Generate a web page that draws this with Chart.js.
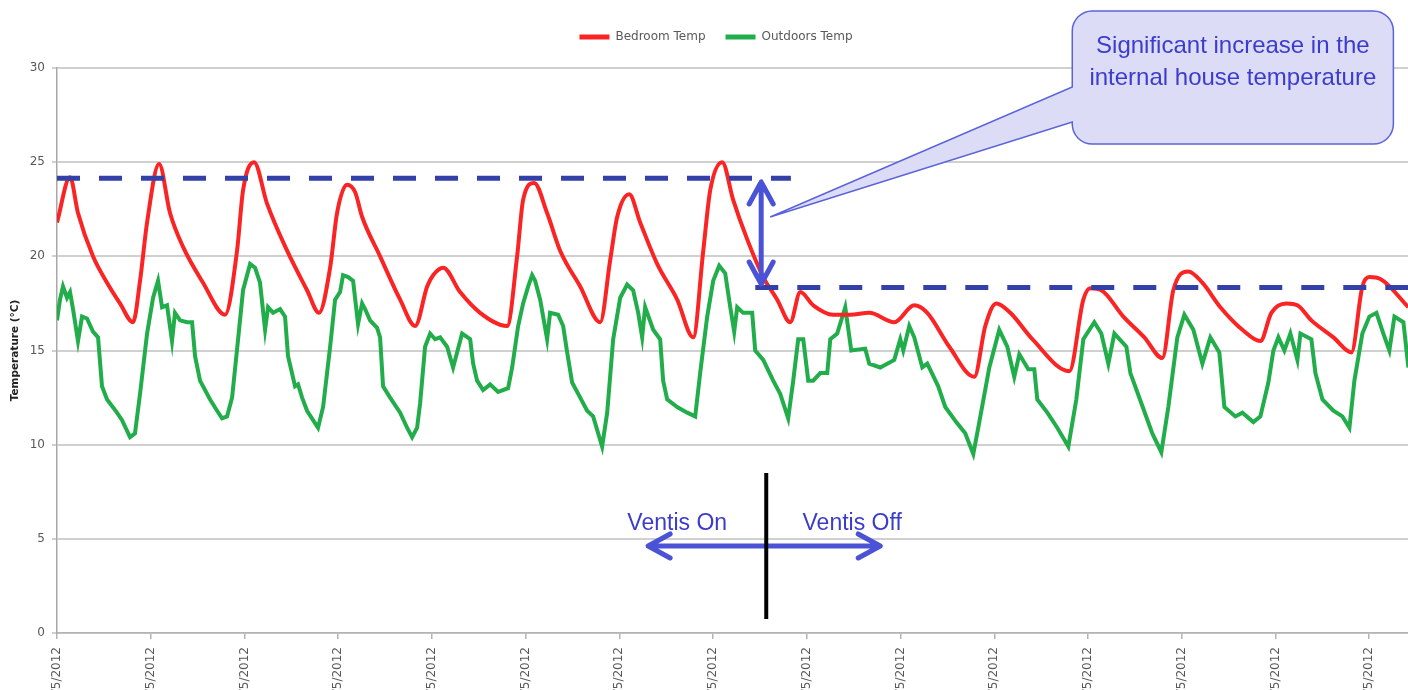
<!DOCTYPE html>
<html lang="en">

<head>
  <meta charset="UTF-8" />
  <title>Bedroom vs Outdoors Temperature</title>
  <style>
    html, body { margin: 0; padding: 0; overflow: hidden; background: #fff; }
  </style>
</head>

<body>
  <canvas id="tempChart" width="1432" height="740"></canvas>

  <script src="https://cdn.jsdelivr.net/npm/chart.js"></script>

  <script>
    // x values are days since the first tick
    const dateLabels = ["10/5/2012", "11/5/2012", "12/5/2012", "13/5/2012", "14/5/2012",
      "15/5/2012", "16/5/2012", "17/5/2012", "18/5/2012", "19/5/2012", "20/5/2012",
      "21/5/2012", "22/5/2012", "23/5/2012", "24/5/2012"];

    const bedroomDays = [0, 0.139, 0.224, 0.384, 0.534, 0.672, 0.811, 0.886, 0.961, 1.089,
      1.206, 1.345, 1.558, 1.793, 1.921, 1.985, 2.102, 2.241, 2.455, 2.668,
      2.796, 2.914, 2.988, 3.095, 3.181, 3.255, 3.447, 3.661, 3.821, 3.949,
      4.013, 4.120, 4.301, 4.514, 4.803, 4.909, 4.973, 5.091, 5.229, 5.368,
      5.582, 5.795, 5.902, 5.977, 6.105, 6.222, 6.403, 6.617, 6.788, 6.895,
      6.969, 7.097, 7.214, 7.364, 7.535, 7.684, 7.823, 7.930, 8.068, 8.282,
      8.463, 8.666, 8.933, 9.146, 9.285, 9.520, 9.787, 9.904, 10.021, 10.171,
      10.406, 10.801, 10.950, 11.025, 11.142, 11.377, 11.601, 11.793, 11.910, 12.070,
      12.220, 12.412, 12.647, 12.839, 12.956, 13.116, 13.234, 13.383, 13.618, 13.810,
      13.927, 14.002, 14.119, 14.418];
    const bedroomTemp = [21.8, 24.2, 22.3, 20.0, 18.6, 17.5, 16.5, 18.7, 21.8, 24.9,
      22.3, 20.5, 18.6, 16.9, 20.3, 23.5, 25.0, 22.8, 20.3, 18.2,
      17.0, 19.4, 22.3, 23.8, 23.4, 22.1, 20.0, 17.7, 16.3, 18.4,
      19.0, 19.4, 18.1, 17.0, 16.3, 20.0, 23.0, 23.9, 22.3, 20.3,
      18.4, 16.5, 19.8, 22.1, 23.3, 21.8, 19.6, 17.7, 15.7, 20.3,
      23.5, 25.0, 23.0, 20.9, 18.9, 17.7, 16.5, 18.1, 17.4, 16.9,
      16.9, 17.0, 16.5, 17.4, 17.0, 15.2, 13.6, 16.3, 17.5, 17.0,
      15.6, 13.9, 17.7, 18.3, 18.2, 16.8, 15.7, 14.6, 18.2, 19.2,
      18.6, 17.3, 16.1, 15.5, 17.0, 17.5, 17.4, 16.6, 15.7, 14.9,
      18.4, 18.9, 18.8, 17.3];

    const outdoorDays = [0.000, 0.032, 0.064, 0.107, 0.139, 0.171, 0.224, 0.267, 0.320, 0.384,
      0.438, 0.480, 0.534, 0.640, 0.694, 0.779, 0.832, 0.886, 0.961, 1.025,
      1.078, 1.121, 1.174, 1.227, 1.259, 1.313, 1.387, 1.441, 1.473, 1.526,
      1.633, 1.708, 1.761, 1.814, 1.868, 1.932, 1.985, 2.060, 2.113, 2.166,
      2.220, 2.252, 2.305, 2.380, 2.433, 2.465, 2.540, 2.572, 2.615, 2.668,
      2.732, 2.785, 2.839, 2.914, 2.967, 3.020, 3.052, 3.106, 3.159, 3.212,
      3.255, 3.287, 3.340, 3.415, 3.447, 3.479, 3.554, 3.661, 3.735, 3.789,
      3.842, 3.874, 3.927, 3.981, 4.034, 4.088, 4.162, 4.226, 4.322, 4.408,
      4.440, 4.482, 4.546, 4.621, 4.706, 4.813, 4.856, 4.920, 4.973, 5.027,
      5.069, 5.101, 5.155, 5.229, 5.261, 5.347, 5.400, 5.443, 5.496, 5.582,
      5.656, 5.720, 5.816, 5.870, 5.934, 6.009, 6.083, 6.147, 6.201, 6.243,
      6.275, 6.361, 6.435, 6.467, 6.510, 6.617, 6.724, 6.809, 6.862, 6.937,
      7.001, 7.065, 7.129, 7.183, 7.225, 7.257, 7.321, 7.417, 7.449, 7.535,
      7.641, 7.716, 7.801, 7.855, 7.908, 7.962, 8.015, 8.068, 8.143, 8.218,
      8.250, 8.324, 8.410, 8.474, 8.623, 8.666, 8.783, 8.933, 8.997, 9.029,
      9.093, 9.146, 9.232, 9.285, 9.402, 9.477, 9.594, 9.690, 9.776, 9.840,
      9.947, 10.053, 10.139, 10.213, 10.267, 10.363, 10.427, 10.459, 10.566, 10.672,
      10.790, 10.875, 10.950, 11.067, 11.142, 11.217, 11.281, 11.409, 11.452, 11.569,
      11.686, 11.782, 11.857, 11.953, 12.028, 12.124, 12.220, 12.305, 12.401, 12.455,
      12.572, 12.647, 12.764, 12.839, 12.924, 12.978, 13.031, 13.095, 13.159, 13.234,
      13.266, 13.383, 13.426, 13.501, 13.618, 13.714, 13.789, 13.842, 13.927, 14.002,
      14.077, 14.151, 14.215, 14.269, 14.365, 14.418];
    const outdoorTemp = [16.6, 17.7, 18.4, 17.8, 18.1, 17.2, 15.5, 16.8, 16.7, 16.0,
      15.7, 13.1, 12.4, 11.7, 11.3, 10.4, 10.6, 12.7, 15.9, 17.8,
      18.7, 17.3, 17.4, 15.5, 17.0, 16.6, 16.5, 16.5, 14.7, 13.4,
      12.4, 11.8, 11.4, 11.5, 12.5, 15.6, 18.2, 19.6, 19.4, 18.6,
      16.1, 17.3, 17.0, 17.2, 16.8, 14.7, 13.1, 13.2, 12.5, 11.8,
      11.3, 10.9, 12.0, 15.2, 17.7, 18.1, 19.0, 18.9, 18.7, 16.4,
      17.5, 17.2, 16.6, 16.2, 15.7, 13.1, 12.5, 11.7, 10.9, 10.4,
      10.9, 12.2, 15.2, 15.9, 15.6, 15.7, 15.2, 14.1, 15.9, 15.6,
      14.3, 13.4, 12.9, 13.2, 12.8, 13.0, 14.1, 16.3, 17.5, 18.4,
      19.0, 18.7, 17.7, 15.6, 17.0, 16.9, 16.3, 14.9, 13.3, 12.5,
      11.8, 11.5, 9.9, 11.7, 15.6, 17.8, 18.5, 18.2, 17.0, 15.7,
      17.3, 16.1, 15.6, 13.4, 12.4, 12.0, 11.7, 11.5, 13.8, 16.8,
      18.7, 19.5, 19.1, 17.3, 16.0, 17.3, 17.0, 17.0, 15.0, 14.5,
      13.4, 12.7, 11.4, 13.4, 15.6, 15.6, 13.4, 13.4, 13.8, 13.8,
      15.6, 15.9, 17.3, 15.0, 15.1, 14.3, 14.1, 14.5, 15.6, 15.0,
      16.3, 15.7, 14.1, 14.3, 13.1, 12.0, 11.2, 10.6, 9.5, 11.2,
      14.1, 16.1, 15.2, 13.6, 14.8, 14.0, 14.0, 12.4, 11.7, 10.9,
      9.9, 12.4, 15.6, 16.5, 15.9, 14.3, 15.9, 15.2, 13.8, 12.2,
      10.6, 9.6, 12.0, 15.7, 16.9, 16.1, 14.3, 15.7, 14.9, 12.0,
      11.5, 11.7, 11.2, 11.5, 13.3, 15.0, 15.7, 15.0, 15.9, 14.5,
      15.9, 15.6, 13.8, 12.4, 11.8, 11.5, 10.9, 13.4, 15.9, 16.8,
      17.0, 15.9, 15.0, 16.8, 16.5, 14.1];

    const toPoints = (xs, ys) => xs.map((d, i) => ({ x: d, y: ys[i] }));

    Chart.defaults.font.family = "'DejaVu Sans', Verdana, sans-serif";

    // make room between legend and plot like the original
    const legendSpace = {
      id: "legendSpace",
      beforeInit(chart) {
        const fit = chart.legend.fit;
        chart.legend.fit = function () {
          fit.bind(chart.legend)();
          this.height = 57;
        };
      },
    };

    function chevron(ctx, tx, ty, dx, dy) {
      const px = -dy, py = dx;
      ctx.moveTo(tx - 22 * dx + 12 * px, ty - 22 * dy + 12 * py);
      ctx.lineTo(tx, ty);
      ctx.lineTo(tx - 22 * dx - 12 * px, ty - 22 * dy - 12 * py);
    }

    const notes = {
      id: "notes",
      afterDatasetsDraw(chart) {
        const { ctx } = chart;
        const X = (v) => chart.scales.x.getPixelForValue(v);
        const Y = (v) => chart.scales.y.getPixelForValue(v);
        ctx.save();

        // before / after levels
        ctx.strokeStyle = "#3340a8";
        ctx.lineWidth = 5;
        ctx.setLineDash([23, 19]);
        ctx.beginPath();
        ctx.moveTo(X(0), Y(24.15));
        ctx.lineTo(X(7.83), Y(24.15));
        ctx.stroke();
        ctx.beginPath();
        ctx.moveTo(X(7.45), Y(18.35));
        ctx.lineTo(X(14.67), Y(18.35));
        ctx.stroke();
        ctx.setLineDash([]);

        // vertical double arrow
        ctx.strokeStyle = "#4a52d6";
        ctx.lineCap = "round";
        ctx.lineJoin = "round";
        const ax = X(7.513), aTop = Y(23.95), aBot = Y(18.53);
        ctx.beginPath();
        ctx.moveTo(ax, aTop);
        ctx.lineTo(ax, aBot);
        chevron(ctx, ax, aTop, 0, -1);
        chevron(ctx, ax, aBot, 0, 1);
        ctx.stroke();

        // horizontal double arrow
        const hy = Y(4.62), hl = X(6.307), hr = X(8.783);
        ctx.beginPath();
        ctx.moveTo(hl, hy);
        ctx.lineTo(hr, hy);
        chevron(ctx, hl, hy, -1, 0);
        chevron(ctx, hr, hy, 1, 0);
        ctx.stroke();

        // switch-over marker
        ctx.strokeStyle = "#000";
        ctx.lineWidth = 4;
        ctx.lineCap = "butt";
        ctx.beginPath();
        ctx.moveTo(X(7.567), Y(8.5));
        ctx.lineTo(X(7.567), Y(0.74));
        ctx.stroke();

        ctx.fillStyle = "#3c3ccc";
        ctx.textAlign = "center";
        ctx.textBaseline = "alphabetic";
        ctx.font = "23px 'Liberation Sans', Arial, sans-serif";
        ctx.fillText("Ventis On", X(6.617), Y(5.47));
        ctx.fillText("Ventis Off", X(8.484), Y(5.47));

        // callout
        const l = X(10.832), r = X(14.258), t = Y(33.03), b = Y(25.96), rad = 20;
        ctx.beginPath();
        ctx.moveTo(l + rad, t);
        ctx.arcTo(r, t, r, b, rad);
        ctx.arcTo(r, b, l, b, rad);
        ctx.arcTo(l, b, l, t, rad);
        ctx.lineTo(l, Y(27.13));
        ctx.lineTo(X(7.609), Y(22.09));
        ctx.lineTo(l, Y(28.99));
        ctx.arcTo(l, t, r, t, rad);
        ctx.closePath();
        ctx.fillStyle = "#dcdcf6";
        ctx.fill();
        ctx.strokeStyle = "#5b63d9";
        ctx.lineWidth = 1.5;
        ctx.lineJoin = "miter";
        ctx.stroke();

        ctx.fillStyle = "#3c3ccc";
        ctx.font = "24px 'Liberation Sans', Arial, sans-serif";
        ctx.fillText("Significant increase in the", X(12.545), Y(30.8));
        ctx.fillText("internal house temperature", X(12.545), Y(29.1));

        ctx.restore();
      },
    };

    const chart = new Chart(document.getElementById("tempChart"), {
      type: "line",
      data: {
        datasets: [
          {
            label: "Bedroom Temp",
            data: toPoints(bedroomDays, bedroomTemp),
            borderColor: "#fb2424",
            backgroundColor: "#fb2424",
            borderWidth: 4,
            pointRadius: 0,
            cubicInterpolationMode: "monotone",
          },
          {
            label: "Outdoors Temp",
            data: toPoints(outdoorDays, outdoorTemp),
            borderColor: "#22ad4b",
            backgroundColor: "#22ad4b",
            borderWidth: 4,
            pointRadius: 0,
            tension: 0,
          },
        ],
      },
      options: {
        responsive: false,
        animation: false,
        layout: { padding: { top: 11, left: 0, right: 0, bottom: 0 } },
        plugins: {
          tooltip: { enabled: false },
          legend: {
            position: "top",
            labels: {
              color: "#595959",
              font: { size: 12 },
              boxWidth: 30,
              boxHeight: 5,
              padding: 20,
              generateLabels: (c) =>
                Chart.defaults.plugins.legend.labels
                  .generateLabels(c)
                  .map((item) => ({ ...item, lineWidth: 0 })),
            },
          },
        },
        scales: {
          x: {
            type: "linear",
            min: 0,
            max: 14.67,
            afterFit: (scale) => { scale.height = 107; },
            grid: { drawOnChartArea: false, tickLength: 6, color: "#b4b4b4", lineWidth: 1.5 },
            border: { color: "#b4b4b4", width: 1.5 },
            ticks: {
              stepSize: 1,
              includeBounds: false,
              autoSkip: false,
              minRotation: 90,
              maxRotation: 90,
              padding: 8,
              color: "#595959",
              font: { size: 12 },
              callback: (v) => dateLabels[v] ?? "",
            },
          },
          y: {
            min: 0,
            max: 30,
            afterFit: (scale) => { scale.width = 57; },
            grid: { color: "#d0d0d0", lineWidth: 2, tickLength: 5 },
            border: { color: "#a8a8a8", width: 1.5 },
            ticks: { stepSize: 5, padding: 7, color: "#595959", font: { size: 12 } },
            title: {
              display: true,
              text: "Temperature (°C)",
              color: "#222",
              font: { size: 10.5, weight: "bold" },
              padding: { top: 9, bottom: 0 },
            },
          },
        },
      },
      plugins: [legendSpace, notes],
    });
  </script>
</body>

</html>
